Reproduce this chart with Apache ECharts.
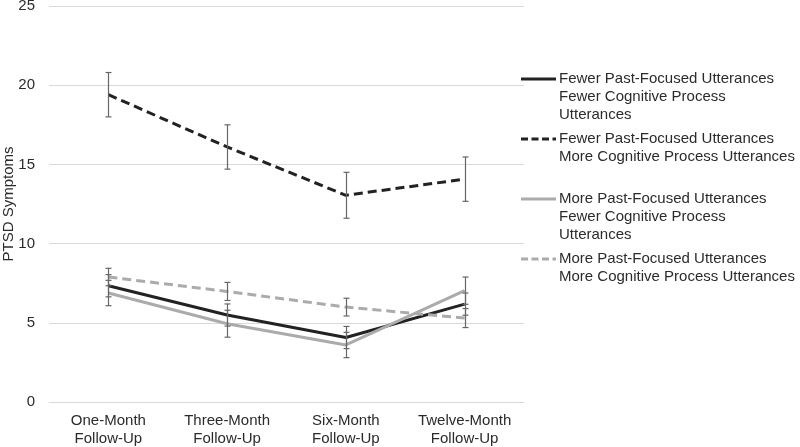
<!DOCTYPE html>
<html>
<head>
<meta charset="utf-8">
<script src="https://cdn.jsdelivr.net/npm/echarts@6/dist/echarts.min.js"></script>
<style>html,body{margin:0;padding:0;background:#fff}#c{width:800px;height:447px}</style>
</head>
<body>
<div id="c"></div>
<script>
var categories = ['One-Month\nFollow-Up', 'Three-Month\nFollow-Up', 'Six-Month\nFollow-Up', 'Twelve-Month\nFollow-Up'];
var seriesNames = [
  'Fewer Past-Focused Utterances\nFewer Cognitive Process\nUtterances',
  'Fewer Past-Focused Utterances\nMore Cognitive Process Utterances',
  'More Past-Focused Utterances\nFewer Cognitive Process\nUtterances',
  'More Past-Focused Utterances\nMore Cognitive Process Utterances'
];
var fewerFewer = [7.34, 5.49, 4.07, 6.18];
var fewerMore  = [19.4, 16.1, 13.05, 14.07];
var moreFewer  = [6.88, 4.94, 3.6, 7.03];
var moreMore   = [7.89, 6.98, 5.99, 5.3];
var errFewerFewer = [0.7, 0.7, 0.7, 0.7];
var errFewerMore  = [1.4, 1.4, 1.45, 1.4];
var errMoreFewer  = [0.8, 0.85, 0.8, 0.86];
var errMoreMore   = [0.55, 0.57, 0.56, 0.6];
var yTicks = [0, 5, 10, 15, 20, 25];

var means = [fewerFewer, fewerMore, moreFewer, moreMore];
var errs = [errFewerFewer, errFewerMore, errMoreFewer, errMoreMore];
var colors = ['#222222', '#222222', '#ababab', '#ababab'];
var dashed = [false, true, false, true];
var legendY = [79, 139, 199, 259];
var textColor = '#2b2b2b';

var chart = echarts.init(document.getElementById('c'));
var series = [];
means.forEach(function (m, i) {
  series.push({
    name: seriesNames[i], type: 'line', data: m, symbol: 'none', z: 2 + i,
    lineStyle: { color: colors[i], width: 3, type: dashed[i] ? [9, 5] : 'solid', cap: 'butt' },
    itemStyle: { color: colors[i] }, silent: true, animation: false
  });
});
means.forEach(function (m, i) {
  series.push({
    type: 'custom', z: 10, animation: false, silent: true,
    data: m.map(function (v, k) { return [k, v - errs[i][k], v + errs[i][k]]; }),
    renderItem: function (params, api) {
      var lo = api.coord([api.value(0), api.value(1)]);
      var hi = api.coord([api.value(0), api.value(2)]);
      var x = Math.round(lo[0]) + 0.5, w = 3;
      var st = { stroke: '#666666', lineWidth: 1.2 };
      return { type: 'group', children: [
        { type: 'line', shape: { x1: x, y1: hi[1], x2: x, y2: lo[1] }, style: st },
        { type: 'line', shape: { x1: x - w, y1: hi[1], x2: x + w, y2: hi[1] }, style: st },
        { type: 'line', shape: { x1: x - w, y1: lo[1], x2: x + w, y2: lo[1] }, style: st }
      ]};
    }
  });
});

var graphics = [];
seriesNames.forEach(function (n, i) {
  graphics.push({
    type: 'line', shape: { x1: 521, y1: legendY[i], x2: 556, y2: legendY[i] },
    style: { stroke: colors[i], lineWidth: 3, lineDash: dashed[i] ? [7, 3.5] : null }
  });
  graphics.push({
    type: 'text', x: 559, y: legendY[i] - 9,
    style: { text: n, font: '15px "Liberation Sans", Arial, sans-serif', fill: textColor, lineHeight: 18, verticalAlign: 'top', align: 'left' }
  });
});

chart.setOption({
  animation: false,
  textStyle: { fontFamily: '"Liberation Sans", Arial, sans-serif' },
  grid: { left: 49, right: 276, top: 6, bottom: 45, containLabel: false, outerBoundsMode: 'none' },
  xAxis: {
    type: 'category', data: categories, boundaryGap: true,
    axisLine: { lineStyle: { color: '#d9d9d9', width: 1 } },
    axisTick: { show: false },
    axisLabel: { fontSize: 15, color: textColor, lineHeight: 18, margin: 10, interval: 0 }
  },
  yAxis: {
    type: 'value', min: yTicks[0], max: yTicks[yTicks.length - 1], interval: 5,
    name: 'PTSD Symptoms', nameLocation: 'middle', nameGap: 33, nameMoveOverlap: false,
    nameTextStyle: { fontSize: 15, color: textColor },
    axisLine: { show: false }, axisTick: { show: false },
    axisLabel: { fontSize: 15, color: textColor, margin: 14 },
    splitLine: { lineStyle: { color: '#d9d9d9', width: 1 } }
  },
  series: series,
  graphic: graphics
});
</script>
</body>
</html>
